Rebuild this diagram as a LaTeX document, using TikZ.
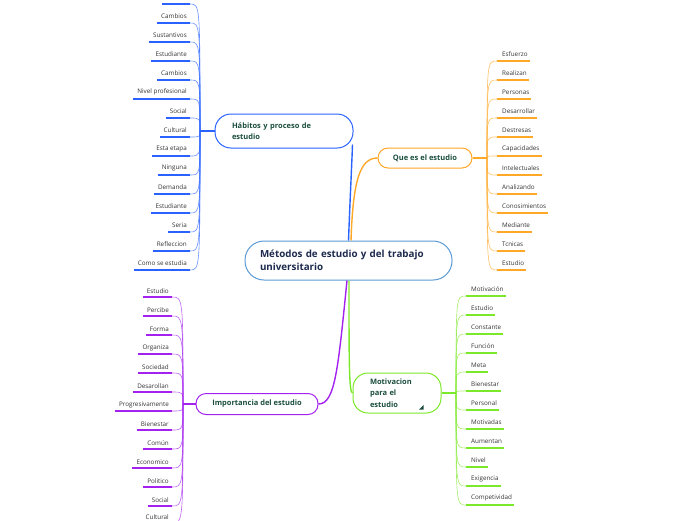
\documentclass[tikz,border=0pt]{standalone}
\usepackage{fontspec}
\setmainfont{Open Sans}
\usetikzlibrary{calc}
\definecolor{cblue}{HTML}{5B9BD5}
\definecolor{bblue}{HTML}{2962FF}
\definecolor{orng}{HTML}{FFA726}
\definecolor{grn}{HTML}{7CE82A}
\definecolor{purp}{HTML}{A322F0}
\definecolor{navy}{HTML}{1C2A4D}
\definecolor{dgreen}{HTML}{1B4D3E}
\definecolor{leafc}{HTML}{333333}
\begin{document}
\begin{tikzpicture}[x=1pt,y=-1pt,
  leaf/.style={inner sep=0pt,font=\fontsize{6.3}{7}\selectfont,text=leafc},
  topic/.style={draw,line width=1pt,fill=white,text=dgreen,font=\fontsize{7.5}{11}\selectfont\bfseries},
  uline/.style={line width=1.7pt},
  twig/.style={line width=0.6pt,opacity=0.7},
  bough/.style={line width=1.4pt}]
\useasboundingbox (0,0) rectangle (696,520);

% ---------- central ----------
\node[draw=cblue,line width=1pt,rounded corners=19pt,fill=white,minimum width=207pt,minimum height=39pt,
  text width=177pt,inner xsep=15pt,align=left,text=navy,font=\fontsize{9.8}{13}\selectfont\bfseries]
  (c) at (348.5,260.5) {Métodos de estudio y del trabajo\\universitario};

% ---------- topic nodes ----------
\node[topic,draw=bblue,rounded corners=16pt,minimum width=138pt,minimum height=34pt,text width=104pt,inner xsep=17pt,align=left]
  (h) at (284,131) {Hábitos y proceso de\\estudio};
\node[topic,draw=orng,rounded corners=10pt,minimum width=94pt,minimum height=20pt]
  (q) at (425,158) {Que es el estudio};
\node[topic,draw=grn,rounded corners=15pt,minimum width=88pt,minimum height=40pt,text width=54pt,inner xsep=17pt,align=left,
  font=\fontsize{7.5}{11.5}\selectfont\bfseries]
  (m) at (397,393) {Motivacion\\para el\\estudio};
\node[topic,draw=purp,rounded corners=10pt,minimum width=122pt,minimum height=21pt]
  (i) at (257,404) {Importancia del estudio};
\fill[dgreen] (419,409.5) -- (423.5,409.5) -- (423.5,405) -- cycle;

% ---------- main boughs ----------
\draw[bough,bblue] (c.north) .. controls (350,200) and (352,160) .. ($(h.south east)+(-1,-4)$);
\draw[bough,orng] ($(c.north)+(2.5,0)$) .. controls (353,180) and (360,158) .. (q.west);
\draw[bough,grn] ($(c.south)+(0.5,0)$) .. controls (349,360) and (349,393) .. (m.west);
\draw[bough,purp] ($(c.south)+(-1.5,0)$) .. controls (338,370) and (335,404) .. (i.east);

% ---------- hubs ----------
\coordinate (hh) at (200,131);
\coordinate (qh) at (487,158);
\coordinate (mh) at (456,393);
\coordinate (ih) at (183,404);
\draw[bough,bblue,line width=2pt] (h.west) -- (hh);
\draw[bough,orng,line width=2pt] (q.east) -- (qh);
\draw[bough,grn,line width=2pt] (m.east) -- (mh);
\draw[bough,purp,line width=2pt] (i.west) -- (ih);

% ---------- blue leaves (left) ----------
\draw[uline,bblue] (162,4) -- (190,4) coordinate (hb0);
\draw[twig,bblue] (hh) .. controls (200,4) .. (hb0);
\foreach \y/\t [count=\k] in {16/Cambios,35/Sustantivos,54/Estudiante,73/Cambios,92/Nivel profesional,111/Social,130/Cultural,149/Esta etapa,168/Ninguna,187/Demanda,206/Estudiante,225/Seria,244/Refleccion,263/Como se estudia}{
  \pgfmathsetmacro\u{\y+7}
  \node[leaf,anchor=east] (hl\k) at (187,\y) {\t};
  \coordinate (hy\k) at (0,\u);
  \coordinate (he\k) at (190,\u);
  \draw[uline,bblue] ($(hl\k.west |- hy\k)+(-4,0)$) -- (he\k);
  \draw[twig,bblue] (hh) .. controls (200,\u) .. (he\k);
}

% ---------- orange leaves (right) ----------
\foreach \y/\t [count=\k] in {54/Esfuerzo,73/Realizan,92/Personas,111/Desarrollar,130/Destresas,149/Capacidades,168/Intelectuales,187/Analizando,206/Conosimientos,225/Mediante,244/Tcnicas,263/Estudio}{
  \pgfmathsetmacro\u{\y+7}
  \node[leaf,anchor=west] (ql\k) at (502,\y) {\t};
  \coordinate (qs\k) at (497,\u);
  \draw[uline,orng] (qs\k) -- ($(ql\k.east |- qs\k)+(2,0)$);
  \draw[twig,orng] (qh) .. controls (487,\u) .. (qs\k);
}

% ---------- green leaves (right) ----------
\foreach \y/\t [count=\k] in {289/Motivación,308/Estudio,327/Constante,346/Función,365/Meta,384/Bienestar,403/Personal,422/Motivadas,441/Aumentan,460/Nivel,479/Exigencia,498/Competividad}{
  \pgfmathsetmacro\u{\y+7}
  \node[leaf,anchor=west] (ml\k) at (471,\y) {\t};
  \coordinate (ms\k) at (466,\u);
  \draw[uline,grn] (ms\k) -- ($(ml\k.east |- ms\k)+(2,0)$);
  \draw[twig,grn] (mh) .. controls (456,\u) .. (ms\k);
}

% ---------- purple leaves (left) ----------
\foreach \y/\t [count=\k] in {291/Estudio,310/Percibe,329/Forma,348/Organiza,367/Sociedad,386/Desarollan,405/Progresivamente,424/Bienestar,443/Común,462/Economico,481/Politico,500/Social,517/Cultural}{
  \pgfmathsetmacro\u{\y+6}
  \node[leaf,anchor=east] (il\k) at (169,\y) {\t};
  \coordinate (ie\k) at (172,\u);
  \draw[uline,purp] ($(il\k.west |- ie\k)+(-4,0)$) -- (ie\k);
  \draw[twig,purp] (ih) .. controls (183,\u) .. (ie\k);
}
\end{tikzpicture}
\end{document}
